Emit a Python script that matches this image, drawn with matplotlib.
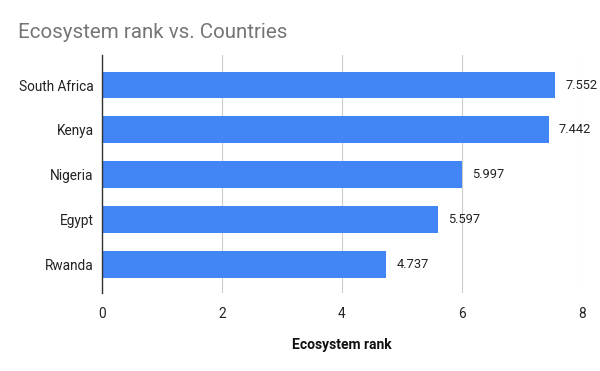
import matplotlib.pyplot as plt

countries = ["South Africa", "Kenya", "Nigeria", "Egypt", "Rwanda"]
ranks = [7.552, 7.442, 5.997, 5.597, 4.737]
xticks = [0, 2, 4, 6, 8]

plt.rcParams['font.family'] = ['Roboto', 'DejaVu Sans']

fig = plt.figure(figsize=(6, 3.71), dpi=100)
ax = fig.add_axes([0.17, 0.2102, 0.80, 0.6416])

pos = list(range(len(countries)))
ax.barh(pos, ranks, height=0.6, color="#4285f4", zorder=3)

# value labels to the right of each bar
for p, v in zip(pos, ranks):
    ax.text(v + 0.17, p, f"{v:.3f}", va="center", ha="left", fontsize=9.3, color="#222222")

ax.set_xlim(0, 8)
ax.set_ylim(4.64, -0.67)
ax.set_xticks(xticks)
ax.set_yticks(pos)
ax.set_yticklabels(countries)
ax.grid(axis="x", color="#cccccc", linewidth=0.8, zorder=0)
ax.tick_params(length=0, labelsize=9.8, labelcolor="#222222")
ax.tick_params(axis="x", pad=10)
ax.tick_params(axis="y", pad=6)
for s in ["top", "right", "bottom"]:
    ax.spines[s].set_visible(False)
ax.spines["left"].set_color("#333333")
ax.spines["left"].set_linewidth(1)
ax.spines["left"].set_zorder(4)

ax.set_xlabel("Ecosystem rank", fontsize=10, fontweight="bold", color="#111111", labelpad=12)
fig.text(18 / 600, 1 - 32 / 371, "Ecosystem rank vs. Countries", fontsize=14.8, color="#757575",
         ha="left", va="center")

fig.savefig("out.png", dpi=100)
